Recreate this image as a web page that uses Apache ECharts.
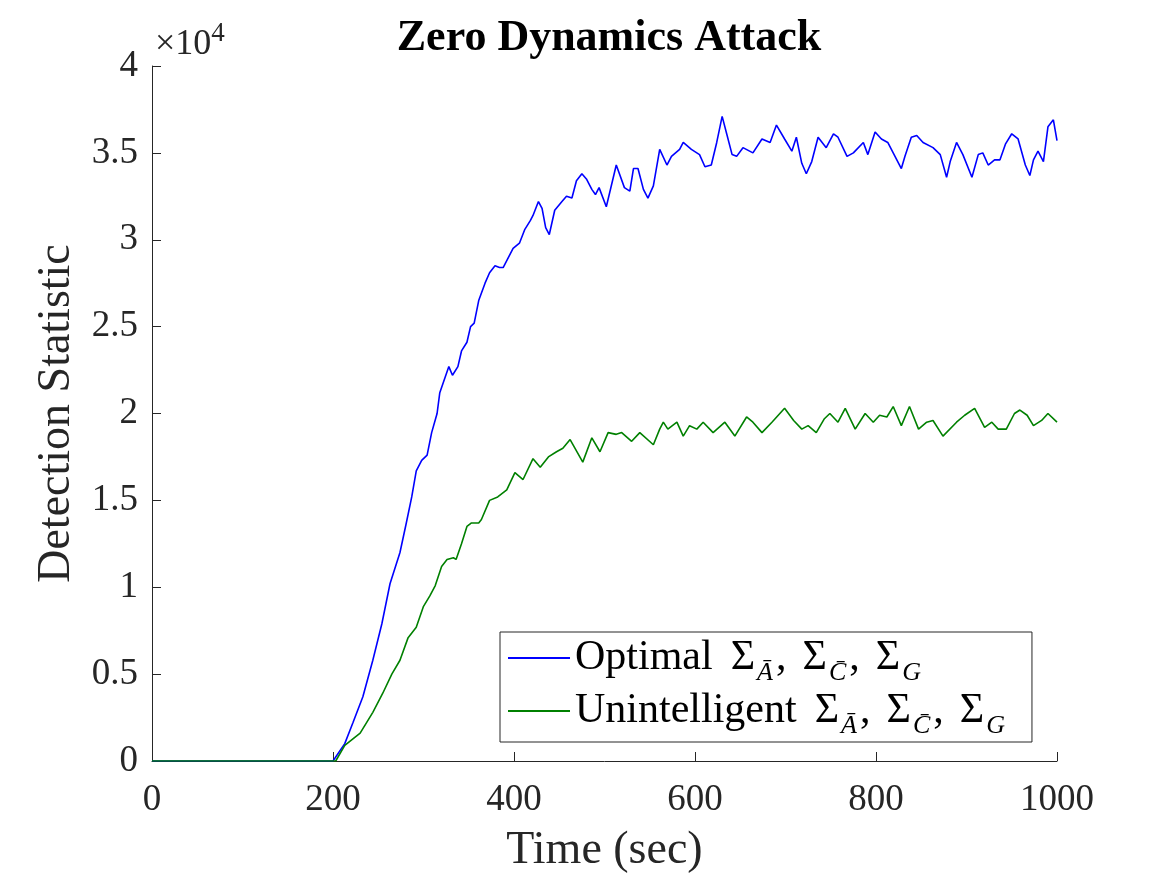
<!DOCTYPE html>
<html>
<head>
<meta charset="utf-8">
<script src="https://cdn.jsdelivr.net/npm/echarts@6/dist/echarts.min.js"></script>
<style>
  html, body { margin: 0; padding: 0; background: #fff; }
  #chart { width: 1167px; height: 875px; }
</style>
</head>
<body>
<div id="chart"></div>
<script>
// values in units of 1e4
const optimalTime = [
  0, 200, 201, 213, 222, 233, 244, 254, 263, 274,
  281, 287, 292, 298, 304, 309, 315, 318, 324, 328,
  332, 338, 342, 348, 352, 356, 361, 368, 373, 379,
  384, 388, 393, 399, 406, 412, 418, 421, 427, 431,
  435, 439, 445, 453, 458, 464, 469, 475, 480, 486,
  490, 494, 502, 513, 522, 528, 532, 537, 543, 548,
  554, 561, 569, 574, 583, 587, 596, 605, 611, 618,
  624, 630, 635, 641, 646, 653, 664, 674, 683, 690,
  699, 707, 712, 718, 723, 729, 736, 745, 753, 758,
  768, 775, 786, 791, 799, 806, 813, 819, 828, 832,
  839, 845, 852, 863, 871, 878, 882, 889, 896, 906,
  913, 918, 924, 931, 937, 943, 950, 957, 965, 970,
  974, 979, 985, 990, 996, 1000
];
const optimalValue = [
  0, 0, 0, 0.10, 0.22, 0.37, 0.58, 0.79, 1.02, 1.20,
  1.37, 1.52, 1.67, 1.73, 1.76, 1.89, 2.00, 2.12, 2.21, 2.27,
  2.22, 2.27, 2.36, 2.41, 2.50, 2.52, 2.65, 2.75, 2.81, 2.85,
  2.84, 2.84, 2.89, 2.95, 2.98, 3.06, 3.11, 3.14, 3.22, 3.18,
  3.07, 3.03, 3.17, 3.22, 3.25, 3.24, 3.34, 3.38, 3.35, 3.29,
  3.26, 3.30, 3.19, 3.43, 3.30, 3.28, 3.41, 3.41, 3.29, 3.24,
  3.31, 3.52, 3.43, 3.48, 3.52, 3.56, 3.52, 3.49, 3.42, 3.43,
  3.56, 3.71, 3.61, 3.49, 3.48, 3.53, 3.50, 3.58, 3.56, 3.66,
  3.58, 3.51, 3.59, 3.44, 3.38, 3.45, 3.59, 3.53, 3.61, 3.59,
  3.48, 3.50, 3.56, 3.49, 3.62, 3.58, 3.56, 3.50, 3.41, 3.48,
  3.59, 3.60, 3.56, 3.53, 3.49, 3.36, 3.45, 3.56, 3.49, 3.36,
  3.49, 3.50, 3.43, 3.46, 3.46, 3.55, 3.61, 3.58, 3.43, 3.37,
  3.46, 3.51, 3.45, 3.65, 3.69, 3.57
];
const unintelligentTime = [
  0, 200, 203, 213, 230, 244, 255, 265, 274, 283,
  292, 300, 307, 313, 320, 326, 333, 336, 342, 348,
  353, 361, 364, 373, 382, 392, 401, 410, 421, 429,
  438, 447, 454, 462, 476, 486, 495, 504, 513, 519,
  530, 539, 554, 561, 565, 570, 580, 587, 594, 602,
  609, 620, 633, 644, 657, 664, 674, 685, 699, 709,
  718, 725, 734, 743, 749, 758, 766, 777, 788, 797,
  804, 812, 819, 828, 837, 847, 856, 863, 874, 889,
  898, 909, 920, 928, 935, 944, 953, 959, 967, 974,
  983, 990, 1000
];
const unintelligentValue = [
  0, 0, 0, 0.09, 0.16, 0.28, 0.39, 0.50, 0.58, 0.71,
  0.77, 0.89, 0.95, 1.01, 1.12, 1.16, 1.17, 1.16, 1.25, 1.35,
  1.37, 1.37, 1.39, 1.50, 1.52, 1.56, 1.66, 1.62, 1.74, 1.69,
  1.75, 1.78, 1.80, 1.85, 1.72, 1.86, 1.78, 1.89, 1.88, 1.89,
  1.84, 1.89, 1.82, 1.91, 1.95, 1.91, 1.95, 1.87, 1.93, 1.91,
  1.95, 1.89, 1.95, 1.87, 1.98, 1.95, 1.89, 1.95, 2.03, 1.96,
  1.91, 1.93, 1.89, 1.97, 2.00, 1.95, 2.03, 1.91, 2.00, 1.95,
  1.99, 1.98, 2.04, 1.93, 2.04, 1.91, 1.95, 1.96, 1.87, 1.95,
  1.99, 2.03, 1.92, 1.95, 1.91, 1.91, 2.00, 2.02, 1.99, 1.93,
  1.96, 2.00, 1.95
];
const xTicks = [0, 200, 400, 600, 800, 1000];
const yTicks = ['0', '0.5', '1', '1.5', '2', '2.5', '3', '3.5', '4'];

const zip = (t, v) => t.map((x, i) => [x, v[i]]);
const serif = '"Liberation Serif", "DejaVu Serif", serif';
const axisColor = '#262626';

let myChart = echarts.init(document.getElementById('chart'));
let sigmas = '{g|Σ}{s|Ā}{c|,}{m|Σ}{s|C\u0304}{c|,}{m|Σ}{s|G}';

let option = {
  animation: false,
  title: {
    text: 'Zero Dynamics Attack',
    left: 604,
    top: 12,
    textAlign: 'center',
    textStyle: { fontFamily: serif, fontWeight: 'bold', fontSize: 44, color: '#000' }
  },
  grid: { left: 152, right: 110, top: 66, bottom: 114, outerBoundsMode: 'none' },
  graphic: [{
    type: 'text',
    left: 155,
    top: 20,
    style: {
      text: '×10{sup|4}',
      fontFamily: serif,
      fontSize: 36,
      fill: axisColor,
      rich: { sup: { fontFamily: serif, fontSize: 27, padding: [0, 0, 22, 0], fill: axisColor } }
    }
  }],
  legend: {
    orient: 'vertical',
    left: 500,
    top: 632,
    icon: 'rect',
    itemWidth: 62,
    itemHeight: 2,
    itemGap: 4,
    padding: [5, 24, 3, 8],
    borderColor: '#262626',
    borderWidth: 1,
    backgroundColor: '#fff',
    formatter: name => '{m|' + name + '}' + sigmas,
    textStyle: {
      fontFamily: serif,
      fontSize: 42,
      color: '#000',
      rich: {
        m: { fontFamily: serif, fontSize: 42, lineHeight: 56, color: '#000' },
        g: { fontFamily: serif, fontSize: 42, lineHeight: 56, color: '#000', padding: [0, 0, 0, 18] },
        c: { fontFamily: serif, fontSize: 42, lineHeight: 56, color: '#000', padding: [0, 16, 0, 0] },
        s: { fontFamily: serif, fontSize: 26, lineHeight: 26, fontStyle: 'italic', color: '#000',
             verticalAlign: 'bottom', padding: [0, 3, 0, 2] }
      }
    }
  },
  xAxis: {
    type: 'value',
    min: 0,
    max: 1000,
    interval: 200,
    name: 'Time (sec)',
    nameLocation: 'middle',
    nameGap: 67,
    nameTextStyle: { fontFamily: serif, fontSize: 46, color: axisColor },
    axisLine: { lineStyle: { color: axisColor, width: 1 } },
    axisTick: { inside: true, length: 9, lineStyle: { color: axisColor } },
    axisLabel: {
      fontFamily: serif, fontSize: 37, color: axisColor, margin: 21,
      formatter: v => xTicks.includes(v) ? String(v) : ''
    },
    splitLine: { show: false }
  },
  yAxis: {
    type: 'value',
    min: 0,
    max: 4,
    interval: 0.5,
    name: 'Detection Statistic',
    nameLocation: 'middle',
    nameGap: 72,
    nameTextStyle: { fontFamily: serif, fontSize: 46, color: axisColor },
    axisLine: { show: true, lineStyle: { color: axisColor, width: 1 } },
    axisTick: { show: true, inside: true, length: 9, lineStyle: { color: axisColor } },
    axisLabel: {
      fontFamily: serif, fontSize: 37, color: axisColor, margin: 14,
      formatter: v => yTicks[Math.round(v * 2)]
    },
    splitLine: { show: false }
  },
  series: [
    {
      name: 'Optimal',
      type: 'line',
      data: zip(optimalTime, optimalValue),
      symbol: 'none',
      lineStyle: { color: '#0000ff', width: 1.6 },
      itemStyle: { color: '#0000ff' }
    },
    {
      name: 'Unintelligent',
      type: 'line',
      data: zip(unintelligentTime, unintelligentValue),
      symbol: 'none',
      lineStyle: { color: '#008000', width: 1.6 },
      itemStyle: { color: '#008000' }
    }
  ]
};
myChart.setOption(option);
</script>
</body>
</html>
